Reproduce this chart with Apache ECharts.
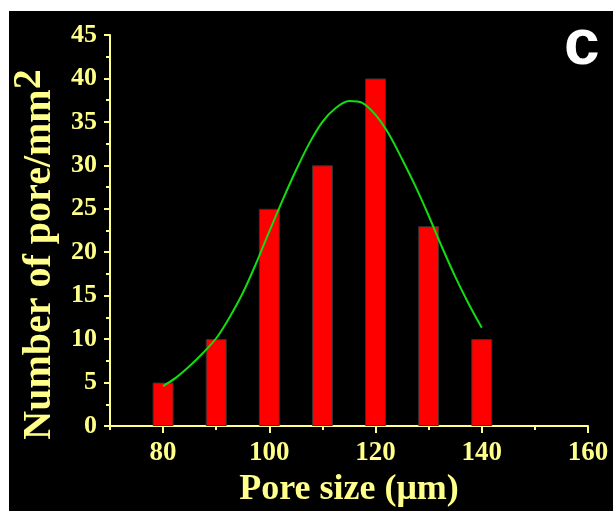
<!DOCTYPE html>
<html>
<head>
<meta charset="utf-8">
<script src="https://cdn.jsdelivr.net/npm/echarts@6/dist/echarts.min.js"></script>
<style>
  html, body { margin: 0; padding: 0; background: #fff; }
  #chart {
    position: absolute;
    left: 9px;
    top: 11px;
    width: 604px;
    height: 500px;
    background: #000;
  }
</style>
</head>
<body>
<div id="chart"></div>
<script>
// 孔径分布数据
const poreSizes = [80, 90, 100, 110, 120, 130, 140];
const poreCounts = [5, 10, 25, 30, 40, 23, 10];

// 拟合曲线
const fitX = [80, 82.5, 85, 87.5, 90, 92.5, 95, 97.5, 100, 102.5, 105, 107.5, 110,
  112.5, 115, 117.5, 120, 122.5, 125, 127.5, 130, 132.5, 135, 137.5, 140];
const fitY = [4.6, 5.6, 6.9, 8.4, 10.1, 12.5, 15.3, 18.7, 22.4, 26.0, 29.4, 32.5, 35.0,
  36.6, 37.4, 37.2, 35.8, 33.6, 30.7, 27.6, 24.2, 20.6, 17.2, 14.1, 11.3];

// 刻度
const xLabelTicks = [80, 100, 120, 140, 160];
const xMinorTicks = [70, 90, 110, 130, 150];

const textColor = '#ffff8a';
const serif = '"Liberation Serif", "Times New Roman", serif';

const chart = echarts.init(document.getElementById('chart'));

const option = {
  backgroundColor: '#000',
  animation: false,
  grid: {
    left: 101,
    right: 25,
    top: 24,
    bottom: 85,
    outerBoundsMode: 'none'
  },
  xAxis: [
    {
      type: 'value',
      min: 70,
      max: 160,
      name: 'Pore size (μm)',
      nameLocation: 'middle',
      nameGap: 46,
      nameTextStyle: {
        color: textColor,
        fontFamily: serif,
        fontWeight: 'bold',
        fontSize: 36
      },
      splitLine: { show: false },
      axisLine: {
        onZero: false,
        lineStyle: { color: textColor, width: 2 }
      },
      axisTick: {
        show: true,
        length: 7,
        customValues: xLabelTicks,
        lineStyle: { color: textColor, width: 2 }
      },
      axisLabel: {
        color: textColor,
        fontFamily: serif,
        fontWeight: 'bold',
        fontSize: 27,
        margin: 14,
        customValues: xLabelTicks
      }
    },
    {
      // 次刻度
      type: 'value',
      position: 'bottom',
      min: 70,
      max: 160,
      splitLine: { show: false },
      axisLine: { show: false },
      axisTick: {
        show: true,
        length: 4,
        customValues: xMinorTicks,
        lineStyle: { color: textColor, width: 2 }
      },
      axisLabel: { show: false }
    }
  ],
  yAxis: {
    type: 'value',
    min: 0,
    max: 45,
    interval: 5,
    name: '{t|Number of pore/mm}{s|2}',
    nameLocation: 'middle',
    nameGap: 48,
    nameTextStyle: {
      padding: [0, 48, 0, 0],
      rich: {
        t: {
          color: textColor,
          fontFamily: serif,
          fontWeight: 'bold',
          fontSize: 40,
          verticalAlign: 'bottom'
        },
        s: {
          color: textColor,
          fontFamily: serif,
          fontWeight: 'bold',
          fontSize: 40,
          verticalAlign: 'bottom',
          padding: [0, 0, 10, 0]
        }
      }
    },
    splitLine: { show: false },
    axisLine: {
      show: true,
      lineStyle: { color: textColor, width: 2 }
    },
    axisTick: {
      show: true,
      length: 6,
      lineStyle: { color: textColor, width: 2 }
    },
    minorTick: {
      show: true,
      splitNumber: 2,
      length: 4,
      lineStyle: { color: textColor, width: 2 }
    },
    axisLabel: {
      color: textColor,
      fontFamily: serif,
      fontWeight: 'bold',
      fontSize: 26,
      margin: 13
    }
  },
  graphic: [
    {
      type: 'text',
      left: 555,
      top: 3,
      style: {
        text: 'c',
        fill: '#fff',
        font: 'bold 64px "Liberation Sans", Arial, sans-serif'
      }
    }
  ],
  series: [
    {
      type: 'bar',
      barWidth: 21,
      data: poreSizes.map((x, i) => [x, poreCounts[i]]),
      itemStyle: {
        color: '#ff0000',
        borderColor: '#333',
        borderWidth: 1
      }
    },
    {
      type: 'line',
      smooth: 0.3,
      showSymbol: false,
      data: fitX.map((x, i) => [x, fitY[i]]),
      lineStyle: { color: '#11dd11', width: 2 },
      z: 3
    }
  ]
};

chart.setOption(option);
</script>
</body>
</html>
